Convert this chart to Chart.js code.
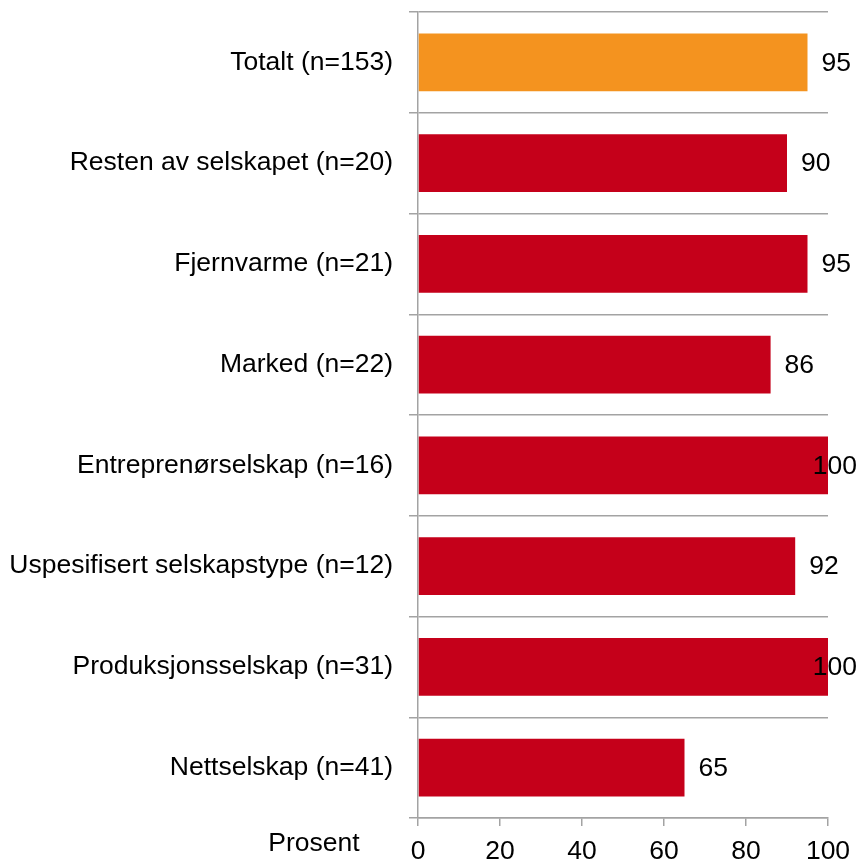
<!DOCTYPE html>
<html>
<head>
<meta charset="utf-8">
<script src="https://cdn.jsdelivr.net/npm/chart.js@4"></script>
<style>
  html, body { margin: 0; padding: 0; background: #fff; }
  #wrap { width: 859px; height: 859px; }
</style>
</head>
<body>
<div id="wrap"><canvas id="chart"></canvas></div>
<script>
// data
const categories = ['Totalt (n=153)', 'Resten av selskapet (n=20)', 'Fjernvarme (n=21)', 'Marked (n=22)',
    'Entreprenørselskap (n=16)', 'Uspesifisert selskapstype (n=12)', 'Produksjonsselskap (n=31)', 'Nettselskap (n=41)'];
const percent = [95, 90, 95, 86, 100, 92, 100, 65];
const xTicks = [0, 20, 40, 60, 80, 100];
const axisTitle = 'Prosent';

const ORANGE = '#F4931F';
const RED = '#C5001A';
const GRID = '#A3A3A3';
const FONT = "'Liberation Sans', Arial, sans-serif";
const FSIZE = 26.5;

const barColors = categories.map((c, i) => i === 0 ? ORANGE : RED);

// value labels at the end of each bar, pushed back inside the canvas if needed
const valueLabels = {
    id: 'valueLabels',
    afterDatasetsDraw(chart) {
        const ctx = chart.ctx;
        const meta = chart.getDatasetMeta(0);
        ctx.save();
        ctx.font = FSIZE + 'px ' + FONT;
        ctx.fillStyle = '#000';
        ctx.textBaseline = 'middle';
        ctx.textAlign = 'left';
        meta.data.forEach((bar, i) => {
            const txt = String(percent[i]);
            const w = ctx.measureText(txt).width;
            let x = bar.x + 14;
            if (x + w > chart.width - 2) x = chart.width - 2 - w;
            ctx.fillText(txt, x, bar.y + 1);
        });
        ctx.restore();
    }
};

// "Prosent" sits to the left, on the line of the x tick labels
const sideTitle = {
    id: 'sideTitle',
    afterDraw(chart) {
        const ctx = chart.ctx;
        const area = chart.chartArea;
        ctx.save();
        ctx.font = FSIZE + 'px ' + FONT;
        ctx.fillStyle = '#000';
        ctx.textAlign = 'center';
        ctx.textBaseline = 'middle';
        ctx.fillText(axisTitle, area.left - 104, area.bottom + 26);
        ctx.restore();
    }
};

new Chart(document.getElementById('chart'), {
    type: 'bar',
    data: {
        labels: categories,
        datasets: [{
            data: percent,
            backgroundColor: barColors,
            borderWidth: 0,
            barPercentage: 0.575,
            categoryPercentage: 1
        }]
    },
    options: {
        indexAxis: 'y',
        responsive: true,
        maintainAspectRatio: false,
        animation: false,
        layout: { padding: { top: 12, right: 31, left: 0, bottom: 0 } },
        plugins: {
            legend: { display: false },
            tooltip: { enabled: false }
        },
        scales: {
            x: {
                min: 0,
                max: 100,
                afterBuildTicks(scale) {
                    scale.ticks = xTicks.map(v => ({ value: v }));
                },
                afterFit(scale) {
                    scale.height = 41;
                    scale.paddingLeft = 0;
                    scale.paddingRight = 0;
                },
                grid: { drawOnChartArea: false, drawTicks: true, tickLength: 8, color: GRID, lineWidth: 1.5 },
                border: { display: true, color: GRID, width: 1.5 },
                ticks: { color: '#000', font: { size: FSIZE, family: FONT }, padding: 10, maxRotation: 0 }
            },
            y: {
                afterFit(scale) {
                    scale.width = 418;
                    scale.paddingTop = 0;
                    scale.paddingBottom = 0;
                },
                grid: { offset: true, drawOnChartArea: true, drawTicks: true, tickLength: 9, color: GRID, lineWidth: 1.5 },
                border: { display: true, color: GRID, width: 1.5 },
                ticks: { color: '#000', font: { size: FSIZE, family: FONT }, padding: 16 }
            }
        }
    },
    plugins: [valueLabels, sideTitle]
});
</script>
</body>
</html>
